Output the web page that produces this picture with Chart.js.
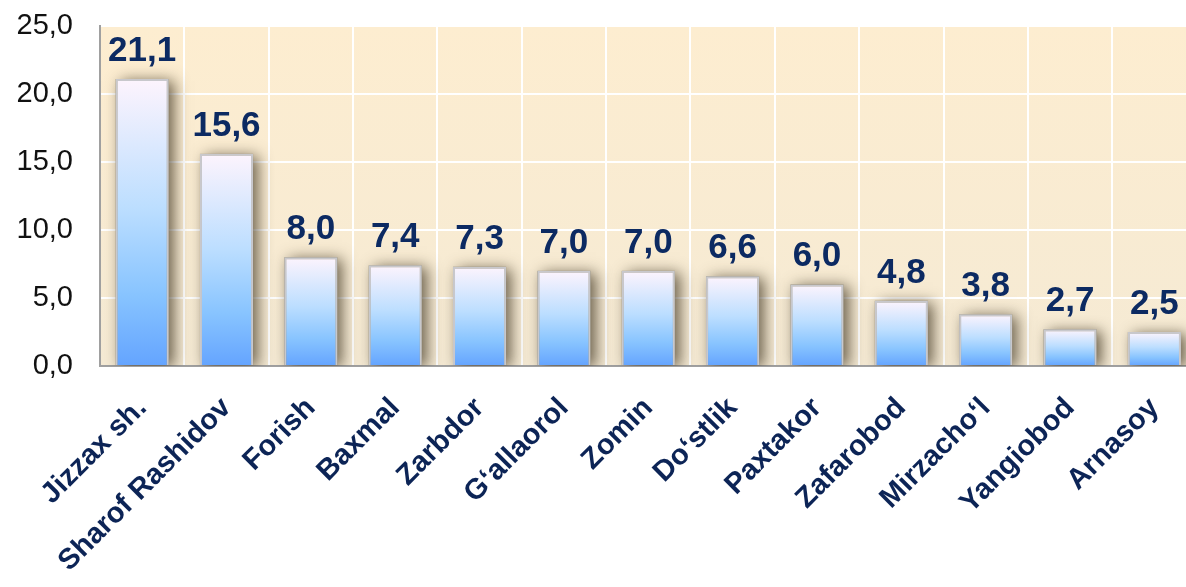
<!DOCTYPE html>
<html>
<head>
<meta charset="utf-8">
<script src="https://cdn.jsdelivr.net/npm/chart.js@4"></script>
<style>
  html, body { margin: 0; padding: 0; background: #fff; }
  #wrap { width: 1186px; height: 587px; overflow: hidden; }
</style>
</head>
<body>
<div id="wrap"><canvas id="chart" width="1204" height="587"></canvas></div>
<script>
const districts = ['Jizzax sh.', 'Sharof Rashidov', 'Forish', 'Baxmal', 'Zarbdor', 'G‘allaorol', 'Zomin', 'Do‘stlik', 'Paxtakor', 'Zafarobod', 'Mirzacho‘l', 'Yangiobod', 'Arnasoy'];
const values = [21.1, 15.6, 8.0, 7.4, 7.3, 7.0, 7.0, 6.6, 6.0, 4.8, 3.8, 2.7, 2.5];
const yTicks = [0, 5, 10, 15, 20, 25];

const fmt = v => v.toFixed(1).replace('.', ',');

// фон области графика
const bgPlugin = {
    id: 'bg',
    beforeDraw(chart) {
        const { ctx, chartArea: a } = chart;
        const g = ctx.createLinearGradient(0, a.top, 0, a.bottom);
        g.addColorStop(0, '#fdedd0');
        g.addColorStop(1, '#f5ead4');
        ctx.save();
        ctx.fillStyle = g;
        ctx.fillRect(a.left, a.top, a.right - a.left, a.bottom - a.top);
        ctx.restore();
    }
};

// тень под столбцами + подписи значений
const barsPlugin = {
    id: 'bars',
    beforeDatasetsDraw(chart) {
        const ctx = chart.ctx;
        const a = chart.chartArea;
        ctx.save();
        ctx.beginPath();
        ctx.rect(a.left, a.top - 30, a.right - a.left, a.bottom - a.top + 30);
        ctx.clip();
        ctx.shadowColor = 'rgba(60, 50, 30, 0.75)';
        ctx.shadowBlur = 14;
        ctx.shadowOffsetX = 5;
        ctx.shadowOffsetY = 2;
        ctx.fillStyle = '#9a927f';
        chart.getDatasetMeta(0).data.forEach(bar => {
            const w = bar.width;
            ctx.fillRect(bar.x - w / 2, bar.y, w, bar.base - bar.y);
        });
        ctx.restore();
    },
    afterDatasetsDraw(chart) {
        const ctx = chart.ctx;
        ctx.save();
        ctx.font = 'bold 35px "Liberation Sans", Arial, sans-serif';
        ctx.fillStyle = '#0c2a62';
        ctx.textAlign = 'center';
        ctx.textBaseline = 'alphabetic';
        chart.getDatasetMeta(0).data.forEach((bar, i) => {
            ctx.fillText(fmt(values[i]), bar.x, bar.y - 18);
        });
        ctx.restore();
    }
};

const ctx = document.getElementById('chart').getContext('2d');
new Chart(ctx, {
    type: 'bar',
    data: {
        labels: districts,
        datasets: [{
            data: values,
            backgroundColor: (c) => {
                const chart = c.chart;
                if (!chart.chartArea || c.raw === undefined) return '#9ccbff';
                const y = chart.scales.y;
                const top = y.getPixelForValue(c.raw);
                const bottom = y.getPixelForValue(0);
                const g = chart.ctx.createLinearGradient(0, top, 0, bottom);
                g.addColorStop(0, '#fdf4fd');
                g.addColorStop(0.45, '#bcdeff');
                g.addColorStop(0.75, '#88c4ff');
                g.addColorStop(1, '#64a4ff');
                return g;
            },
            borderColor: '#c8c8cc',
            borderWidth: 2,
            barPercentage: 0.63,
            categoryPercentage: 1
        }]
    },
    options: {
        responsive: false,
        animation: false,
        devicePixelRatio: 1,
        layout: { padding: { top: 26, right: 0, bottom: 0, left: 0 } },
        plugins: {
            legend: { display: false },
            tooltip: { enabled: false }
        },
        scales: {
            x: {
                grid: { color: '#ffffff', lineWidth: 2, drawTicks: false },
                border: { color: '#a0a0a0', width: 2 },
                ticks: {
                    autoSkip: false,
                    minRotation: 45,
                    maxRotation: 45,
                    padding: 25,
                    color: '#0c2456',
                    font: { family: '"Liberation Sans", Arial, sans-serif', size: 29, weight: 'bold' }
                },
                afterFit: (s) => { s.height = 221; }
            },
            y: {
                min: 0,
                max: 25,
                afterBuildTicks: (s) => { s.ticks = yTicks.map(v => ({ value: v })); },
                grid: { color: '#ffffff', lineWidth: 2, drawTicks: true, tickLength: 27, tickColor: 'rgba(0,0,0,0)' },
                border: { color: '#a0a0a0', width: 2 },
                ticks: {
                    padding: 0,
                    color: '#111111',
                    font: { family: '"Liberation Sans", Arial, sans-serif', size: 29 },
                    callback: (v) => fmt(v)
                },
                afterFit: (s) => { s.width = 100; }
            }
        }
    },
    plugins: [bgPlugin, barsPlugin]
});
</script>
</body>
</html>
